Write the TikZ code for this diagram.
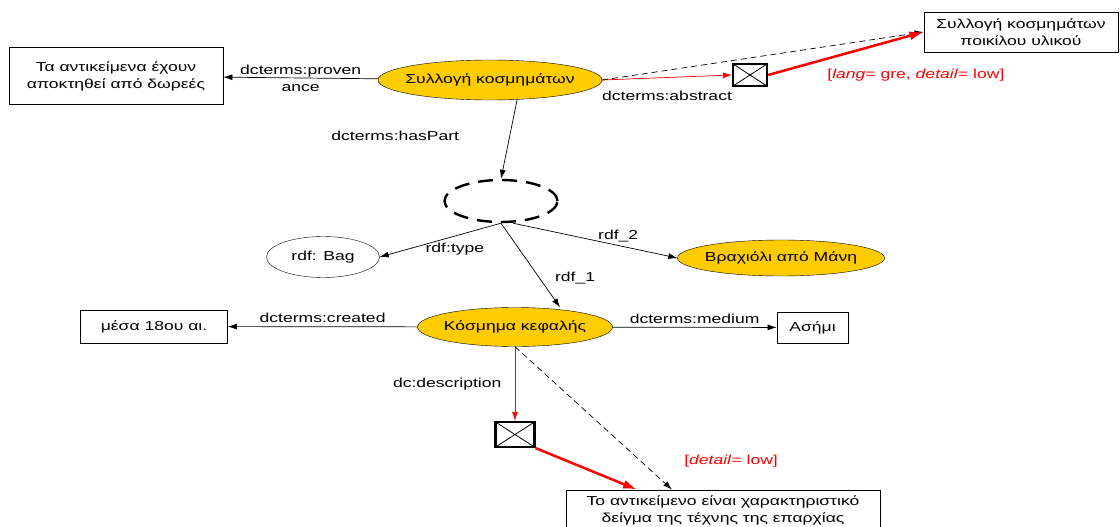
\documentclass[tikz,border=0pt]{standalone}
\usepackage{fontspec}
\setmainfont[FakeStretch=1.35]{Liberation Sans}
\usetikzlibrary{shapes.geometric,arrows.meta}
\definecolor{jewelgold}{RGB}{255,204,0}
\newcommand{\nowidth}[1]{\makebox[0pt]{#1}}

\begin{document}
\begin{tikzpicture}[x=1pt,y=-1pt,>={Latex[length=9pt,width=6pt]},font=\fontsize{13}{17}\selectfont,
  res node/.style={ellipse,draw,fill=jewelgold,inner sep=0pt},
  bag node/.style={ellipse,draw,inner sep=0pt},
  blank node/.style={ellipse,draw,line width=2.4pt,dash pattern=on 15pt off 9pt,inner sep=0pt},
  lit node/.style={rectangle,draw,line width=0.8pt,align=center,inner sep=0pt},
  fold node/.style={rectangle,draw,line width=2.2pt,inner sep=0pt,path picture={
      \draw[line width=0.8pt] (path picture bounding box.north west) -- (path picture bounding box.south east)
        (path picture bounding box.south west) -- (path picture bounding box.north east);}},
  prop/.style={->,line width=0.7pt},
  same/.style={->,line width=0.7pt,dash pattern=on 6pt off 4pt},
  thin red/.style={->,line width=0.7pt,red},
  thick red/.style={->,line width=2.5pt,red,>={Latex[length=14pt,width=9pt]}}]
  \useasboundingbox (0,0) rectangle (1120,527);

  \node[res node,minimum width=224pt,minimum height=40pt] (coll) at (490,80) {\nowidth{Συλλογή κοσμημάτων}};
  \node[lit node,minimum width=214pt,minimum height=57pt] (prov) at (116,76) {Τα αντικείμενα έχουν\\αποκτηθεί από δωρεές};
  \node[lit node,minimum width=194pt,minimum height=40pt] (abs) at (1021,32) {Συλλογή κοσμημάτων\\ποικίλου υλικού};
  \node[fold node,minimum width=34pt,minimum height=22pt] (xa) at (750,75) {};
  \node[blank node,minimum width=113pt,minimum height=42pt] (bag) at (501,201) {};
  \node[bag node,minimum width=113pt,minimum height=41pt] (type) at (323,257) {\nowidth{rdf: Bag}};
  \node[res node,minimum width=207pt,minimum height=36pt] (brace) at (781,258) {\nowidth{Βραχιόλι από Μάνη}};
  \node[res node,minimum width=195pt,minimum height=39pt] (head) at (515,327) {\nowidth{Κόσμημα κεφαλής}};
  \node[lit node,minimum width=147pt,minimum height=33pt] (date) at (154,326.5) {μέσα 18ου αι.};
  \node[lit node,minimum width=71pt,minimum height=31pt] (silver) at (812.5,327.5) {Ασήμι};
  \node[fold node,minimum width=39pt,minimum height=25pt] (xb) at (515,434.5) {};
  \node[lit node,minimum width=314pt,minimum height=40pt] (desc) at (723,510) {Το αντικείμενο είναι χαρακτηριστικό\\δείγμα της τέχνης της επαρχίας};

  \path[prop]
    (coll) edge node [align=center] {dcterms:proven\\ance} (prov)
    ([xshift=27pt]coll.south) edge node [pos=0.45,left=47pt] {dcterms:hasPart} (bag.north)
    (bag.south) edge node [pos=0.38,below=3pt] {rdf:type} (type.east)
    ([xshift=12pt]bag.south) edge node [pos=0.64,above] {rdf\_2} (brace.west)
    (bag.south) edge node [pos=0.65,right=12pt] {rdf\_1} ([xshift=45pt]head.north)
    (head) edge node [above] {dcterms:created} (date)
    (head) edge node [above] {dcterms:medium} (silver);
  \path[thin red]
    (coll.east) edge node [below=10pt,black] {dcterms:abstract} (xa.west)
    (head.south) edge node [left=10pt,black] {dc:description} (xb.north);
  \path[same]
    (coll.east) edge (abs.west)
    (head.south) edge node [pos=0.8,right=40pt,red] {[\textit{detail}= low]} ([xshift=-51pt]desc.north);
  \path[thick red]
    (xa.east) edge node [pos=0.5,anchor=north west,xshift=-23pt,yshift=-11pt] {[\textit{lang}= gre, \textit{detail}= low]} (abs.west)
    (xb.south east) edge ([xshift=-86pt]desc.north);
\end{tikzpicture}
\end{document}
